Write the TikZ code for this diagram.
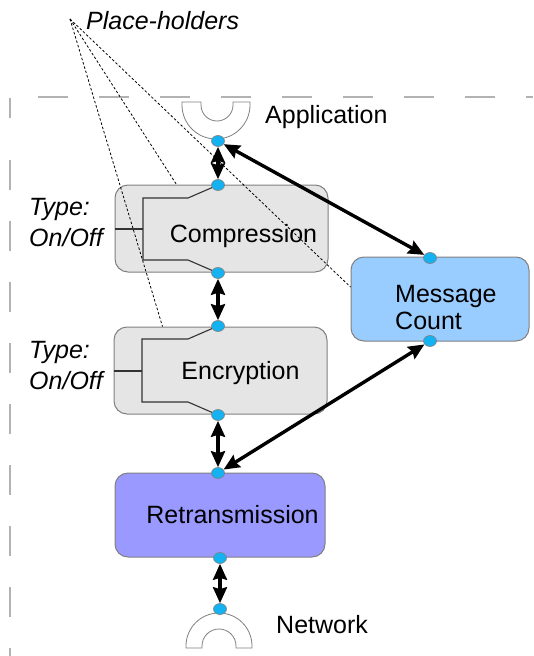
\documentclass[tikz,border=0pt]{standalone}
\usepackage{fontspec}
\setmainfont{Liberation Sans}
\usetikzlibrary{arrows.meta,shapes.geometric}
\definecolor{boxgray}{RGB}{229,229,229}
\definecolor{edgegray}{RGB}{128,128,128}
\definecolor{countblue}{RGB}{153,204,255}
\definecolor{retrviolet}{RGB}{153,153,255}
\definecolor{portcyan}{RGB}{20,178,240}
\definecolor{framegray}{RGB}{178,178,178}

\begin{document}
\begin{tikzpicture}[x=1pt,y=-1pt,
  box/.style={draw=edgegray, line width=1pt, rectangle, rounded corners=13pt, inner sep=0pt},
  port/.style={ellipse, draw=edgegray, line width=0.6pt, fill=portcyan,
               minimum width=13pt, minimum height=11pt, inner sep=0pt},
  plug/.style={draw=edgegray, fill=white, line width=0.8pt},
  flow/.style={line width=3.4pt,
               {Stealth[length=16pt,width=14pt,inset=2pt]}-{Stealth[length=16pt,width=14pt,inset=2pt]}},
  switchline/.style={line width=1.1pt, draw=black!80},
  hint/.style={line width=0.8pt, dash pattern=on 2.5pt off 2pt},
  frame/.style={draw=framegray, line width=1.5pt, dash pattern=on 30pt off 31pt},
  lbl/.style={inner sep=0pt, font=\fontsize{25}{29}\selectfont},
  ilbl/.style={lbl, font=\fontsize{25}{31}\selectfont\itshape, align=left},
]
\useasboundingbox (0,0) rectangle (533,656);

% dashed frame of the stack
\draw[frame] (38,97) -- (533,97);
\draw[draw=framegray, line width=1.5pt] (10,98) -- (10,118);
\draw[frame] (10,160) -- (10,656);

% protocol boxes
\node[box, fill=boxgray, minimum width=213pt, minimum height=87pt] (comp) at (221.5,228.5) {};
\node[box, fill=boxgray, minimum width=213pt, minimum height=87pt] (enc) at (220.5,370.5) {};
\node[box, fill=countblue, minimum width=178pt, minimum height=84pt] (count) at (440,299) {};
\node[box, fill=retrviolet, minimum width=210pt, minimum height=84pt] (retr) at (220,515) {};

% application and network plugs
\draw[plug] (182,102) -- (182,105) arc[start angle=180, end angle=0, radius=34]
  -- (250,102) -- (233,102) -- (233,105) arc[start angle=0, end angle=180, radius=16]
  -- (201,102) -- cycle;
\draw[plug] (186,648) -- (186,646) arc[start angle=180, end angle=360, radius=33]
  -- (252,648) -- (236,648) -- (236,646) arc[start angle=360, end angle=180, radius=17]
  -- (202,648) -- cycle;

% place-holder pointers
\coordinate (apex) at (70,19);
\draw[hint] (apex) -- ([xshift=49pt]enc.north west);
\draw[hint] (apex) -- ([xshift=62pt]comp.north west);
\draw[hint] (apex) -- ([yshift=12pt]count.west);

% ports
\node[port] (appdot) at (218,141) {};
\node[port] (ctop) at (218,185) {};
\node[port] (cbot) at (218,273) {};
\node[port] (etop) at (218,326) {};
\node[port] (ebot) at (218,415) {};
\node[port] (rtop) at (218,473) {};
\node[port] (rbot) at (220,558) {};
\node[port] (netdot) at (220,609) {};
\node[port] (mtop) at (430,258) {};
\node[port] (mbot) at (430,341) {};

% on/off switches inside the optional layers
\draw[switchline] (ctop) -- (188,198) -- (143,198) -- (143,260) -- (188,260) -- (cbot);
\draw[switchline] (comp.west |- 0,229) -- (143,229);
\draw[switchline] (etop) -- (188,339) -- (142,339) -- (142,402) -- (188,402) -- (ebot);
\draw[switchline] (enc.west |- 0,371) -- (142,371);

% message flow
\draw[flow] (appdot) -- (ctop);
\draw[flow] (cbot) -- (etop);
\draw[flow] (ebot) -- (rtop);
\draw[flow] (rbot) -- (netdot);
\draw[flow] (appdot) -- (mtop);
\draw[flow] (rtop) -- (mbot);

% labels
\node[lbl, anchor=base] (comptxt) at (243.5,242) {Compression};
\node[lbl, anchor=base] (enctxt) at (240.5,379) {Encryption};
\node[lbl, anchor=base] (retrtxt) at (232.5,523) {Retransmission};
\node[lbl, anchor=north west, align=left, font=\fontsize{25}{27}\selectfont] (counttxt) at (395,285) {Message\\Count};
\node[lbl, anchor=base west] (apptxt) at (265,123) {Application};
\node[lbl, anchor=base west] (nettxt) at (276,633) {Network};
\node[lbl, anchor=base west, font=\fontsize{25}{29}\selectfont\itshape] (phtxt) at (86,29) {Place-holders};
\node[ilbl, anchor=north west] (type1) at (29,198) {Type:\\On/Off};
\node[ilbl, anchor=north west] (type2) at (29,341) {Type:\\On/Off};
\end{tikzpicture}
\end{document}
